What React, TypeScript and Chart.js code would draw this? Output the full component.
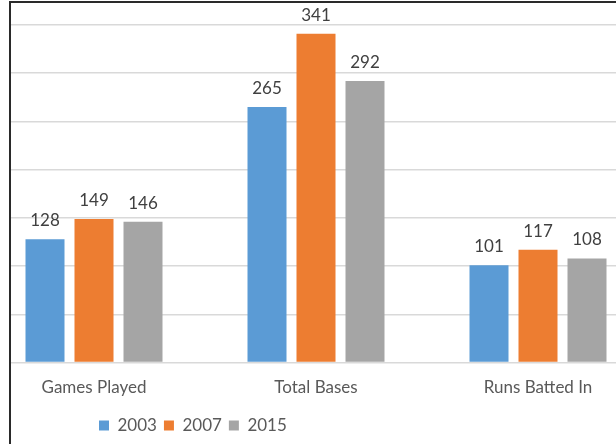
import { useEffect, useRef } from 'react';
import { Chart, registerables } from 'chart.js';

Chart.register(...registerables);

const categories = ['Games Played', 'Total Bases', 'Runs Batted In'];
const seriesNames = ['2003', '2007', '2015'];
const values2003 = [128, 265, 101];
const values2007 = [149, 341, 117];
const values2015 = [146, 292, 108];
const seriesColors = ['#5b9bd5', '#ed7d31', '#a5a5a5'];
const yMin = 0;
const yMax = 350;
const yStep = 50;

const FONT = 'Lato, "Open Sans", sans-serif';
const FONT_SIZE = 17;
const LEGEND_PAD = 7;
const LEGEND_START = 116;

const valueLabels = {
  id: 'valueLabels',
  afterDatasetsDraw(chart: any) {
    const ctx = chart.ctx;
    ctx.save();
    ctx.font = `${FONT_SIZE}px ${FONT}`;
    ctx.fillStyle = '#404040';
    ctx.textAlign = 'center';
    ctx.textBaseline = 'alphabetic';
    chart.data.datasets.forEach((ds: any, i: number) => {
      const meta = chart.getDatasetMeta(i);
      meta.data.forEach((bar: any, j: number) => {
        ctx.fillText(String(ds.data[j]), bar.x, bar.y - 13);
      });
    });
    ctx.restore();
  },
};

const legendShift = {
  id: 'legendShift',
  beforeDraw(chart: any) {
    const lg = chart.legend;
    if (lg) {
      lg.left = LEGEND_START - LEGEND_PAD;
    }
  },
};

export default function App() {
  const ref = useRef<HTMLCanvasElement | null>(null);

  useEffect(() => {
    document.body.style.margin = '0';
    const canvas = ref.current;
    if (!canvas) return;
    const allValues = [values2003, values2007, values2015];
    const chart = new Chart(canvas, {
      type: 'bar',
      data: {
        labels: categories,
        datasets: seriesNames.map((name, i) => ({
          label: name,
          data: allValues[i],
          backgroundColor: seriesColors[i],
          borderWidth: 0,
          categoryPercentage: 147 / 222,
          barPercentage: 39 / 49,
        })),
      },
      options: {
        animation: false,
        responsive: false,
        devicePixelRatio: 1,
        layout: { padding: { top: 22, left: 0, right: 0, bottom: 0 } },
        plugins: {
          tooltip: { enabled: false },
          legend: {
            display: true,
            position: 'bottom',
            align: 'start',
            labels: {
              boxWidth: 10,
              boxHeight: 10,
              padding: LEGEND_PAD,
              color: '#595959',
              font: { family: FONT, size: FONT_SIZE },
            },
          },
        },
        scales: {
          x: {
            grid: { display: false },
            border: { display: false },
            ticks: {
              color: '#595959',
              font: { family: FONT, size: FONT_SIZE },
              padding: 7,
            },
            afterFit(scale: any) {
              scale.height += 5;
            },
          },
          y: {
            min: yMin,
            max: yMax,
            ticks: { display: false, stepSize: yStep },
            grid: { color: '#d9d9d9', lineWidth: 1.5, drawTicks: false },
            border: { display: false },
          },
        },
      },
      plugins: [valueLabels, legendShift],
    });
    return () => chart.destroy();
  }, []);

  return (
    <div style={{ position: 'absolute', left: 0, top: 0, width: 616, height: 444, overflow: 'hidden', background: '#fff' }}>
      <div
        style={{
          position: 'absolute',
          left: 9,
          top: 1,
          width: 620,
          height: 450,
          borderTop: '2px solid #2a2a2a',
          borderLeft: '2px solid #2a2a2a',
          overflow: 'hidden',
        }}
      >
        <canvas
          ref={ref}
          width={666}
          height={441}
          style={{ position: 'absolute', left: -28, top: 0, width: 666, height: 441, display: 'block' }}
        />
      </div>
    </div>
  );
}
